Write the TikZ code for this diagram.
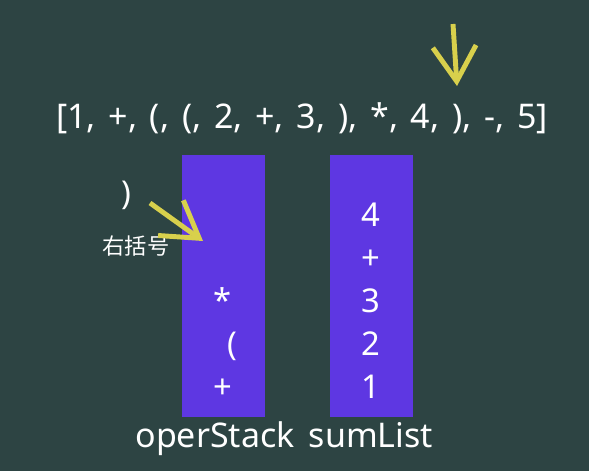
\documentclass[tikz,border=0pt]{standalone}
\usepackage{fontspec}
\setmainfont{Noto Sans}
\newfontfamily\cjk{Noto Sans CJK SC}
\newfontfamily\exprfont[WordSpace=1.45]{Noto Sans}
\usetikzlibrary{arrows.meta}
\usetikzlibrary{positioning}
\definecolor{board}{RGB}{45,68,67}
\definecolor{stackblue}{RGB}{94,55,226}
\definecolor{chalk}{RGB}{216,208,76}
\tikzset{item/.style = {text=white, inner sep=0pt, text height=0.72em, text depth=0pt,
                        font=\fontsize{28}{30}\selectfont},
         column/.style = {fill=stackblue, inner sep=0pt, minimum width=2.49cm, minimum height=7.83cm},
         pointer/.style = {chalk, line width=4.2pt,
                           -{Straight Barb[length=1.05cm, width=1.3cm]}}}

\begin{document}
\begin{tikzpicture}[x=0.03cm, y=-0.03cm]
    \useasboundingbox (0,0) rectangle (597,471);
    \fill[white] (0,0) rectangle (597,471);
    \fill[board] (0,0) rectangle (589,471);

    % expression being scanned
    \node[item, anchor=base, font=\exprfont\fontsize{29}{31}\selectfont]
        (expr) at (302,128) {[1, +, (, (, 2, +, 3, ), *, 4, ), -, 5]};
    \coordinate (top) at (453,24);
    \coordinate (hit) at (457,86);
    \draw[pointer] (top) -- (hit);

    % the two stacks
    \node[column] (oper) at (223.5,286) {};
    \node[column] (sum) at (371,286) {};
    \node[item, anchor=base, font=\fontsize{29}{31}\selectfont] (operlbl) at (215,447) {operStack};
    \node[item, anchor=base, font=\fontsize{29}{31}\selectfont] (sumlbl) at (371,447) {sumList};

    \node[item] (o1) at (223,394) {+};
    \node[item] (o2) at (232,351) {(};
    \node[item] (o3) at (223,308) {*};
    \foreach \v [count=\i] in {1,2,3,+,4}
        \node[item] (s\i) at (371,{394-43*(\i-1)}) {\v};

    % incoming token
    \node[item] (tok) at (126,200) {)};
    \node[text=white, inner sep=0pt, font=\cjk\fontsize{19}{21}\selectfont] (toklbl) at (136,246) {右括号};
    \coordinate (from) at (150,203);
    \coordinate (into) at (203,241);
    \draw[pointer] (from) -- (into);
\end{tikzpicture}
\end{document}
